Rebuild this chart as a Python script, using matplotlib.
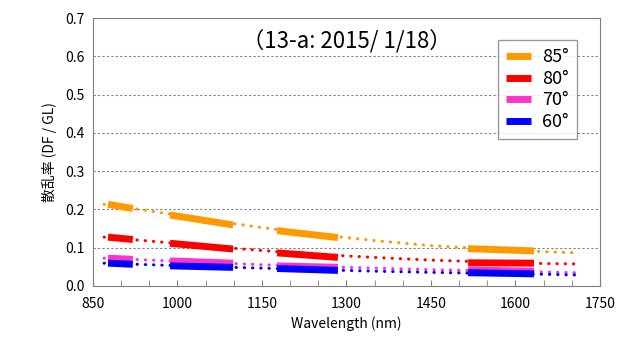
import matplotlib
matplotlib.use("Agg")
import matplotlib.pyplot as plt

plt.rcParams['font.family'] = ['Noto Sans CJK JP', 'DejaVu Sans']

angles = ['85°', '80°', '70°', '60°']
colors = ['#FF9900', '#FF0000', '#FF33CC', '#0000FF']

# measured bands (start, end wavelength)
band_wl = [(877, 921), (987, 1099), (1177, 1285), (1516, 1633)]
band_vals = {
    '85°': [(0.213, 0.202), (0.185, 0.159), (0.144, 0.126), (0.097, 0.091)],
    '80°': [(0.127, 0.121), (0.111, 0.096), (0.086, 0.074), (0.060, 0.059)],
    '70°': [(0.072, 0.069), (0.065, 0.059), (0.052, 0.048), (0.041, 0.038)],
    '60°': [(0.059, 0.056), (0.052, 0.048), (0.045, 0.040), (0.034, 0.031)],
}

# fitted curves (dotted)
fit_wl = [870, 950, 1050, 1150, 1250, 1350, 1450, 1550, 1650, 1710]
fit_vals = {
    '85°': [0.213, 0.196, 0.173, 0.152, 0.134, 0.118, 0.105, 0.096, 0.089, 0.086],
    '80°': [0.127, 0.117, 0.104, 0.092, 0.082, 0.074, 0.067, 0.062, 0.058, 0.057],
    '70°': [0.072, 0.067, 0.061, 0.055, 0.050, 0.046, 0.042, 0.039, 0.036, 0.034],
    '60°': [0.059, 0.055, 0.050, 0.046, 0.042, 0.038, 0.035, 0.032, 0.030, 0.028],
}

fig = plt.figure(figsize=(6.23, 3.42), dpi=100)
ax = fig.add_axes([0.149, 0.1646, 0.814, 0.782])

for a, c in zip(angles, colors):
    ax.plot(fit_wl, fit_vals[a], color=c, linestyle=(0, (0.1, 2.6)), linewidth=2.2,
            dash_capstyle='round', zorder=3)
for a, c in zip(angles, colors):
    for i, (w0, w1) in enumerate(band_wl):
        v0, v1 = band_vals[a][i]
        ax.plot([w0, w1], [v0, v1], color=c, linewidth=5, solid_capstyle='butt',
                label=a if i == 0 else None, zorder=4)

ax.set_xlim(850, 1750)
ax.set_ylim(0, 0.7)
ax.set_xticks(range(850, 1751, 150))
ax.set_xticks(range(850, 1751, 50), minor=True)
ax.set_yticks([i / 10 for i in range(8)])
ax.set_yticklabels([f'{i / 10:.1f}' for i in range(8)])
ax.tick_params(axis='x', which='both', direction='in', length=4, color='#808080', labelsize=10, pad=8)
ax.tick_params(axis='y', length=0, labelsize=10, pad=6)
ax.grid(axis='y', color='#808080', linestyle=(0, (2, 2)), linewidth=0.8)
ax.set_axisbelow(True)
for s in ax.spines.values():
    s.set_color('#808080')

ax.set_xlabel('Wavelength (nm)', fontsize=10, labelpad=4)
ax.set_ylabel('散乱率 (DF / GL)', fontsize=10, labelpad=6)
ax.text(0.5, 0.915, '（13-a: 2015/ 1/18）', transform=ax.transAxes,
        ha='center', va='center', fontsize=16)

leg = ax.legend(loc='upper right', bbox_to_anchor=(0.972, 0.952), fontsize=13,
                frameon=True, fancybox=False, edgecolor='#808080', handlelength=1.4,
                handletextpad=0.6, labelspacing=0.2, borderpad=0.45)
leg.get_frame().set_linewidth(1.0)

fig.savefig('out.png', dpi=100)
